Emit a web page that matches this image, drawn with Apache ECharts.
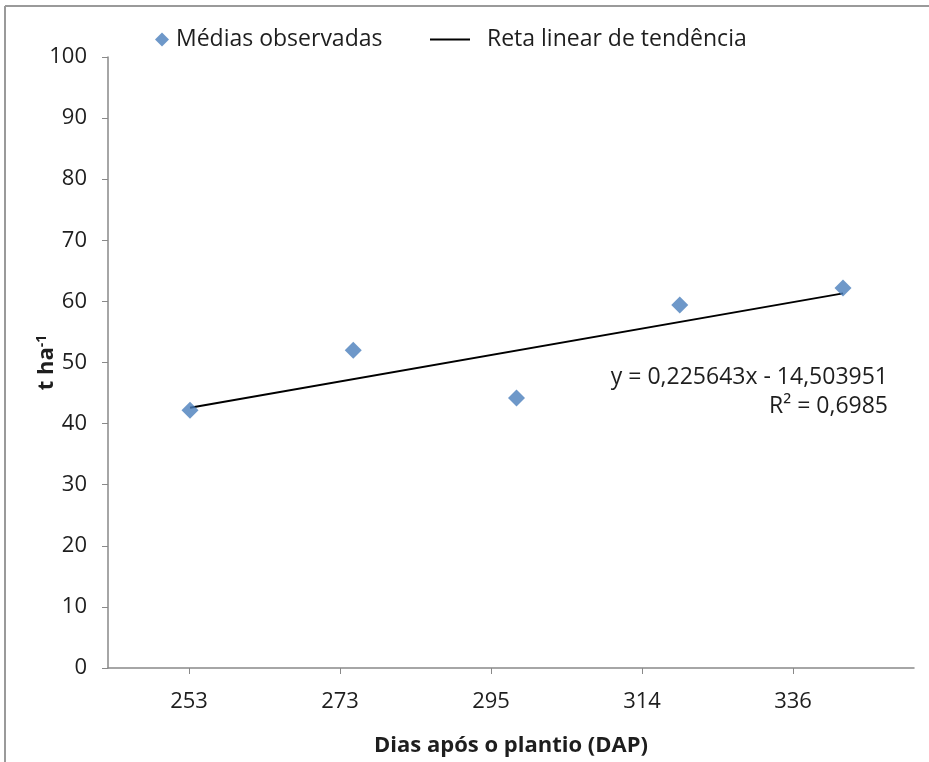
<!DOCTYPE html>
<html>
<head>
<meta charset="utf-8">
<script src="https://cdn.jsdelivr.net/npm/echarts@6/dist/echarts.min.js"></script>
<style>
  html, body { margin: 0; padding: 0; background: #fff; }
  #chart { width: 929px; height: 762px; }
</style>
</head>
<body>
<div id="chart"></div>
<script>
// Days after planting and observed mean yield (t/ha)
const categories = ['253', '273', '295', '314', '336'];
const daysValues = [253, 273, 295, 314, 336];
const observedMeans = [42.2, 52.0, 44.2, 59.4, 62.2];

// Fitted linear trend: y = slope * x + intercept
const trendSlope = 0.225643;
const trendIntercept = -14.503951;
const trendR2 = '0,6985';

const yTicks = { min: 0, max: 100, interval: 10 };

// Category index of each sampling date
const categoryIndex = categories.map((c, i) => i);

// Observed means as [index, value] pairs
const observedPoints = categoryIndex.map(i => [i, observedMeans[i]]);

// Trend segment between the first and last sampling date, from the fitted equation
const lastIdx = daysValues.length - 1;
const trendPoints = [
  [0, +(trendSlope * daysValues[0] + trendIntercept).toFixed(3)],
  [lastIdx, +(trendSlope * daysValues[lastIdx] + trendIntercept).toFixed(3)]
];

const FONT = 'Open Sans';
const axisGray = '#898989';
const textColor = '#1e1e1e';

const chart = echarts.init(document.getElementById('chart'), null, { renderer: 'canvas' });

chart.setOption({
  backgroundColor: '#ffffff',
  textStyle: { fontFamily: FONT },
  animation: false,
  grid: { left: 108, right: 15, top: 57, bottom: 94 },
  legend: [
    {
      data: [{ name: 'Médias observadas', icon: 'diamond' }],
      left: 150, top: 23,
      itemWidth: 14, itemHeight: 14,
      textStyle: { fontFamily: FONT, fontSize: 23, color: textColor, padding: [0, 0, 0, 2] }
    },
    {
      data: [{ name: 'Reta linear de tendência', icon: 'rect' }],
      left: 425, top: 23,
      itemWidth: 40, itemHeight: 2,
      itemStyle: { color: '#000000' },
      textStyle: { fontFamily: FONT, fontSize: 23, color: textColor, padding: [0, 0, 0, 12] }
    }
  ],
  xAxis: [
    {
      // Labelled day axis
      type: 'value',
      min: -0.5364,
      max: 4.8013,
      name: 'Dias após o plantio (DAP)',
      nameLocation: 'middle',
      nameGap: 67,
      nameMoveOverlap: false,
      nameTextStyle: { fontFamily: FONT, fontSize: 22, fontWeight: 'bold', color: textColor },
      axisLine: { show: true, onZero: false, lineStyle: { color: axisGray, width: 1.5 } },
      axisTick: { show: true, length: 6, customValues: categoryIndex, lineStyle: { color: axisGray } },
      axisLabel: {
        margin: 23, fontSize: 22, color: textColor,
        customValues: categoryIndex,
        formatter: v => categories[Math.round(v)]
      },
      splitLine: { show: false }
    },
    {
      // Plotting axis for the observed means and trend
      type: 'value',
      min: -0.5023,
      max: 4.4349,
      show: false,
      splitLine: { show: false }
    }
  ],
  yAxis: {
    type: 'value',
    min: yTicks.min, max: yTicks.max, interval: yTicks.interval,
    name: '{t|t ha}{s|-1}',
    nameLocation: 'middle',
    nameGap: 49,
    nameMoveOverlap: false,
    nameRotate: 90,
    nameTextStyle: {
      rich: {
        t: { fontFamily: FONT, fontSize: 22, fontWeight: 'bold', color: textColor },
        s: { fontFamily: FONT, fontSize: 14, fontWeight: 'bold', color: textColor, verticalAlign: 'top', padding: [0, 0, 10, 0] }
      }
    },
    axisLine: { show: true, onZero: false, lineStyle: { color: axisGray, width: 1.5 } },
    axisTick: { show: true, length: 6, lineStyle: { color: axisGray } },
    axisLabel: { margin: 21, fontSize: 22, color: textColor },
    splitLine: { show: false }
  },
  graphic: [
    { type: 'line', shape: { x1: 5, y1: 6, x2: 929, y2: 6 }, style: { stroke: '#9a9a9a', lineWidth: 2 } },
    { type: 'line', shape: { x1: 5, y1: 6, x2: 5, y2: 762 }, style: { stroke: '#9a9a9a', lineWidth: 2 } },
    {
      type: 'text', right: 41, top: 366,
      style: {
        text: 'y = ' + trendSlope.toFixed(6).replace('.', ',') + 'x - ' + Math.abs(trendIntercept).toFixed(6).replace('.', ','),
        font: '23px "' + FONT + '"', fill: textColor, textAlign: 'right'
      }
    },
    {
      type: 'text', right: 41, top: 395,
      style: {
        text: 'R² = ' + trendR2,
        font: '23px "' + FONT + '"', fill: textColor, textAlign: 'right'
      }
    }
  ],
  series: [
    {
      name: 'Reta linear de tendência',
      type: 'line',
      xAxisIndex: 1,
      data: trendPoints,
      showSymbol: false,
      symbol: 'none',
      lineStyle: { color: '#000000', width: 2 },
      itemStyle: { color: '#000000' },
      z: 2
    },
    {
      name: 'Médias observadas',
      type: 'scatter',
      xAxisIndex: 1,
      data: observedPoints,
      symbol: 'diamond',
      symbolSize: 17,
      itemStyle: { color: '#4a7ebb' },
      z: 3
    }
  ]
});
</script>
</body>
</html>
